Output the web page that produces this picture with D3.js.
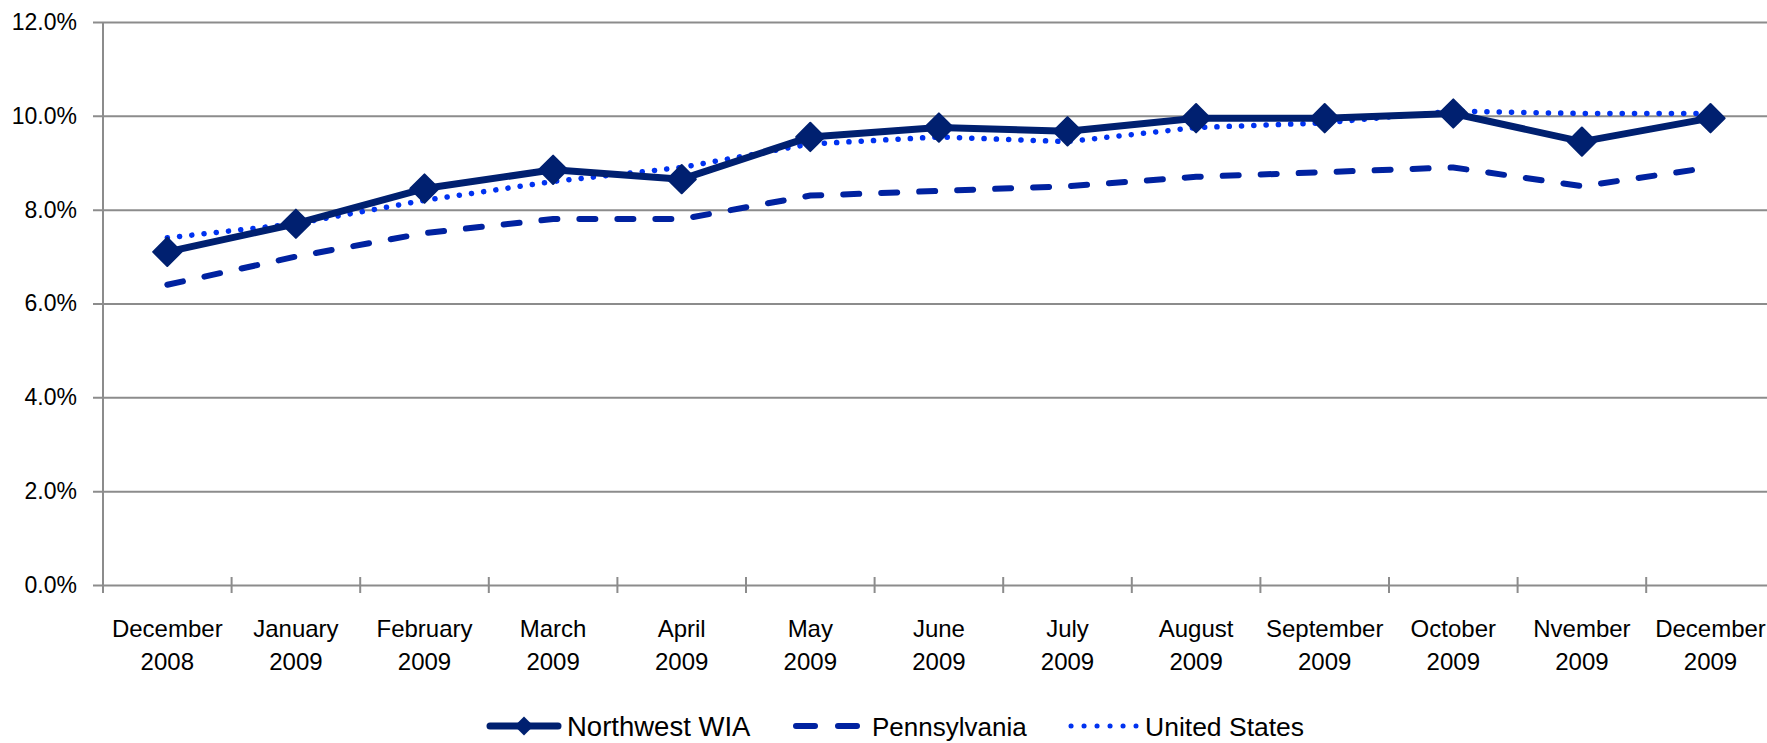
<!DOCTYPE html>
<html>
<head>
<meta charset="utf-8">
<script src="https://cdnjs.cloudflare.com/ajax/libs/d3/7.8.5/d3.min.js"></script>
<style type="text/css">
	body { margin: 0; background: #fff; }
	svg { display: block; font-family: "Liberation Sans", Arial, sans-serif; }
	.grid line { stroke: #8c8c8c; stroke-width: 2px; }
	.grid path { display: none; }
	.lbl text { fill: #000; }
</style>
</head>
<body>
<div id="chart"></div>
<script type="text/javascript">

// months shown on the x axis
var months = ["December 2008", "January 2009", "February 2009", "March 2009", "April 2009",
	"May 2009", "June 2009", "July 2009", "August 2009", "September 2009",
	"October 2009", "Nvember 2009", "December 2009"];

// unemployment rate, percent
var northwestWIA = [7.1, 7.7, 8.45, 8.85, 8.65, 9.55, 9.75, 9.67, 9.95, 9.95, 10.05, 9.45, 9.95];
var pennsylvania = [6.4, 7.0, 7.5, 7.8, 7.8, 8.3, 8.4, 8.5, 8.7, 8.8, 8.9, 8.5, 8.9];
var unitedStates = [7.4, 7.7, 8.2, 8.6, 8.9, 9.4, 9.55, 9.45, 9.75, 9.85, 10.1, 10.05, 10.05];

var yTicks = [0, 2, 4, 6, 8, 10, 12];
var seriesNames = ["Northwest WIA", "Pennsylvania", "United States"];

var W = 1767, H = 743;
var mLeft = 103, mTop = 22, mBottom = 585;
var bandW = 128.6;

var svg = d3.select("#chart").append("svg")
	.attr("width", W)
	.attr("height", H);

var x = d3.scaleBand()
	.domain(months)
	.range([mLeft, mLeft + months.length * bandW])
	.padding(0);

var y = d3.scaleLinear()
	.domain([0, 12])
	.range([mBottom, mTop]);

// horizontal gridlines + y labels
var yAxis = svg.append("g")
	.attr("class", "grid lbl")
	.attr("transform", "translate(" + mLeft + ",0)")
	.call(d3.axisLeft(y)
		.tickValues(yTicks)
		.tickSize(-(months.length * bandW))
		.tickFormat(function(d) { return d.toFixed(1) + "%"; }));
yAxis.selectAll(".tick line").attr("x1", -10);
yAxis.selectAll(".tick text")
	.attr("x", -26)
	.attr("font-size", 23)
	.attr("font-family", "Liberation Sans, Arial, sans-serif");

// vertical axis line
svg.append("line")
	.attr("x1", mLeft).attr("x2", mLeft)
	.attr("y1", y(12)).attr("y2", y(0) + 8)
	.attr("stroke", "#8c8c8c").attr("stroke-width", 2);

// x tick marks at the category boundaries
var bounds = months.map(function(m) { return x(m); }).concat([x(months[months.length - 1]) + x.bandwidth()]);
svg.append("g").selectAll("line")
	.data(bounds)
	.join("line")
	.attr("x1", function(d) { return d; })
	.attr("x2", function(d) { return d; })
	.attr("y1", y(0) - 8)
	.attr("y2", y(0) + 8)
	.attr("stroke", "#8c8c8c")
	.attr("stroke-width", 2);

// x labels, two lines
var xl = svg.append("g").attr("class", "lbl");
xl.selectAll("text")
	.data(months)
	.join("text")
	.attr("x", function(d) { return x(d) + x.bandwidth() / 2; })
	.attr("y", 637)
	.attr("text-anchor", "middle")
	.attr("font-size", 24)
	.each(function(d) {
		var parts = d.split(" ");
		var t = d3.select(this);
		t.append("tspan").attr("x", x(d) + x.bandwidth() / 2).text(parts[0]);
		t.append("tspan").attr("x", x(d) + x.bandwidth() / 2).attr("dy", 33).text(parts[1]);
	});

var cx = function(d, i) { return x(months[i]) + x.bandwidth() / 2; };
var line = d3.line()
	.x(cx)
	.y(function(d) { return y(d); });

// Pennsylvania - dashed
svg.append("path")
	.datum(pennsylvania)
	.attr("d", line)
	.attr("fill", "none")
	.attr("stroke", "#0022a0")
	.attr("stroke-width", 6)
	.attr("stroke-linecap", "round")
	.attr("stroke-dasharray", "16 22");

// United States - dotted
svg.append("path")
	.datum(unitedStates)
	.attr("d", line)
	.attr("fill", "none")
	.attr("stroke", "#0032f0")
	.attr("stroke-width", 5.5)
	.attr("stroke-linecap", "round")
	.attr("stroke-dasharray", "0.1 12.2");

// Northwest WIA - solid + diamonds
svg.append("path")
	.datum(northwestWIA)
	.attr("d", line)
	.attr("fill", "none")
	.attr("stroke", "#002070")
	.attr("stroke-width", 7)
	.attr("stroke-linejoin", "round");

var diamond = d3.symbol().type(d3.symbolSquare).size(400);
svg.append("g").selectAll("path")
	.data(northwestWIA)
	.join("path")
	.attr("d", diamond)
	.attr("transform", function(d, i) { return "translate(" + cx(d, i) + "," + y(d) + ") rotate(45)"; })
	.attr("fill", "#002070")
	.attr("stroke", "#002070")
	.attr("stroke-width", 2)
	.attr("stroke-linejoin", "round");

// legend
var leg = svg.append("g");
var ly = 726;

leg.append("line").attr("x1", 490).attr("x2", 558).attr("y1", ly).attr("y2", ly)
	.attr("stroke", "#002070").attr("stroke-width", 7).attr("stroke-linecap", "round");
leg.append("path").attr("d", d3.symbol().type(d3.symbolSquare).size(180))
	.attr("transform", "translate(524," + ly + ") rotate(45)")
	.attr("fill", "#002070");
leg.append("text").attr("x", 567).attr("y", 736).attr("font-size", 27.5).text(seriesNames[0]);

leg.append("line").attr("x1", 796).attr("x2", 860).attr("y1", ly).attr("y2", ly)
	.attr("stroke", "#0022a0").attr("stroke-width", 6).attr("stroke-linecap", "round")
	.attr("stroke-dasharray", "19 23");
leg.append("text").attr("x", 872).attr("y", 736).attr("font-size", 26).text(seriesNames[1]);

leg.append("line").attr("x1", 1071).attr("x2", 1136).attr("y1", ly).attr("y2", ly)
	.attr("stroke", "#0032f0").attr("stroke-width", 5).attr("stroke-linecap", "round")
	.attr("stroke-dasharray", "0.1 12.9");
leg.append("text").attr("x", 1145).attr("y", 736).attr("font-size", 26.5).text(seriesNames[2]);

</script>
</body>
</html>
